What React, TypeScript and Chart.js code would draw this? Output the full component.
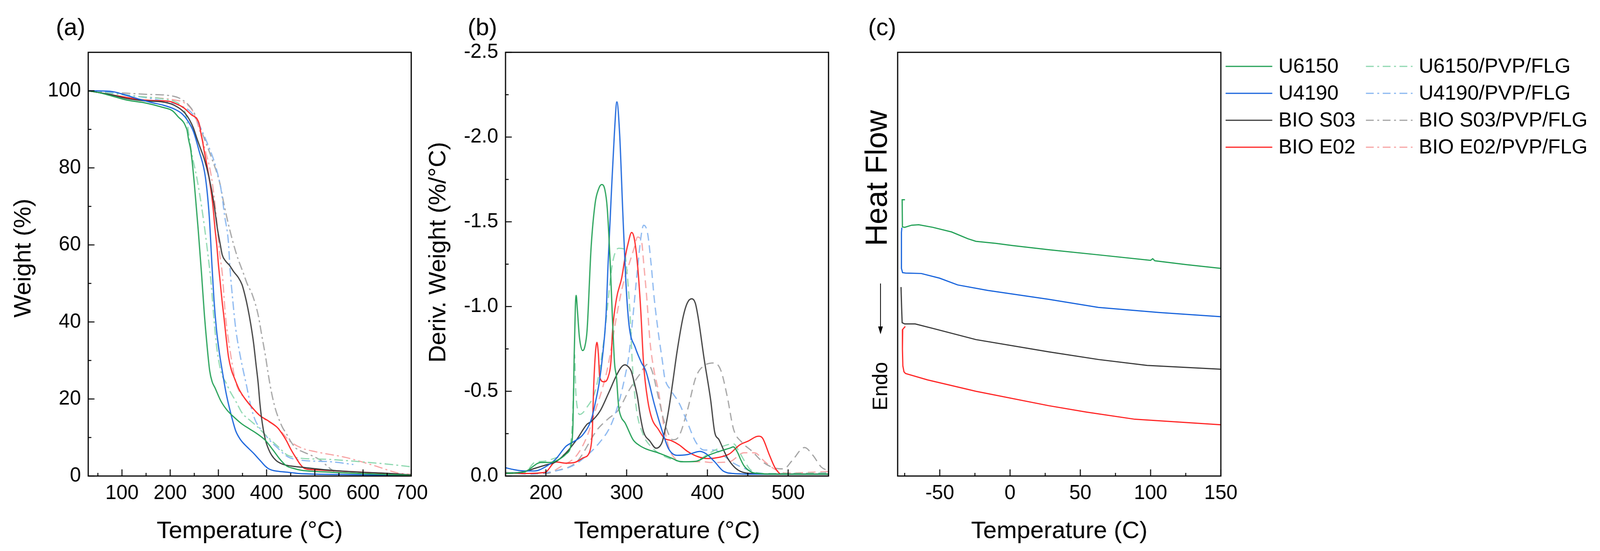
import React, { useEffect, useRef } from "react";
import { Chart, registerables } from "chart.js";

Chart.register(...registerables);

type Pt = [number, number];

const FONT = "'Liberation Sans', Arial, Helvetica, sans-serif";
const PAGE_W = 4393;
const PAGE_H = 1411;

const seriesNames = ["U6150", "U4190", "BIO S03", "BIO E02"];
const compositeNames = ["U6150/PVP/FLG", "U4190/PVP/FLG", "BIO S03/PVP/FLG", "BIO E02/PVP/FLG"];
const solidColors = ["#22a055", "#1763dc", "#3a3a3a", "#ff2424"];
const lightColors = ["#8ed8b0", "#88b6f0", "#a3a3a3", "#f7a3a3"];

// (a) TGA, weight (%) vs temperature (°C)
const tgaU6150: Pt[] = [[30,100],[50,99.6],[81,98.6],[110,97.6],[147,96.9],[185,95.7],[205,94.8],[217,93.2],[228,91.8],[233,90.5],[235,89.8],[238,87.5],[243,84.4],[250,76],[258,64.1],[265,52.6],[271,41.8],[276,34.5],[282,27.3],[287,24.5],[293,22.9],[305,19.5],[318,17.1],[335,15.0],[349,13.5],[365,12.2],[380,11.0],[398,9.2],[407,7.8],[416,6.3],[428,4.3],[441,2.65],[455,2.0],[472,1.5],[500,1.2],[533,1.0],[600,0.6],[700,0.2]];
const tgaU4190: Pt[] = [[30,100],[50,100],[81,99.8],[110,98.8],[134,97.9],[160,97.0],[185,96.3],[210,95.2],[225,94.0],[235,92.5],[248,89.5],[260,84.4],[273,77.6],[281,67.5],[287,54],[291,45.5],[296,38.1],[302,32],[308,27.3],[316,21.5],[324,17.1],[330,14.2],[336,11.7],[345,9.6],[355,8.1],[364,7.0],[373,5.9],[381,4.8],[389,3.7],[397,2.6],[404,1.9],[415,1.4],[426,1.2],[450,0.9],[472,0.6],[550,0.4],[700,0.1]];
const tgaBioS03: Pt[] = [[30,100],[50,99.6],[81,98.9],[110,98.0],[147,97.4],[185,97.1],[202,96.6],[215,95.8],[223,95.1],[232,94.0],[240,92.5],[248,90.4],[255,87.8],[263,85.0],[270.5,82.4],[280.5,77.6],[290.6,70.9],[298,64.2],[304,60.0],[308,57.4],[315,55.8],[323,54.7],[332,53.0],[341,51.6],[349,49.7],[355,47.0],[361,43.6],[367,39.5],[373,34.5],[378,29],[382.5,24.1],[386,19],[389,15.6],[393,12.2],[398,9.2],[404,7.0],[410,5.5],[420,4.0],[435,3.0],[450,2.6],[472,2.3],[500,1.9],[533,1.5],[595,1.0],[650,0.7],[700,0.3]];
const tgaBioE02: Pt[] = [[30,100],[50,99.6],[81,98.9],[110,98.3],[134,97.8],[160,97.5],[197,97.3],[215,96.5],[228,95.6],[243,93.9],[258,92.2],[261,91],[263,89.5],[267,87],[270.5,84.4],[275,81.5],[280.5,77.6],[288,70.9],[293,64.2],[297,59.5],[300,55],[304,50],[308,45],[311,41.8],[316,36],[321,30.9],[327,27.5],[333,25.5],[343,22.5],[355,20.1],[370,17.8],[386,15.7],[405,14.2],[423,12.5],[432,11],[441,9.2],[450,7.0],[460,4.9],[470,3.0],[478,2.0],[490,1.7],[503,1.6],[565,1.2],[626,0.8],[700,0.2]];
const tgaU6150Flg: Pt[] = [[30,100],[80,99.3],[130,98.6],[180,98.0],[210,97.2],[225,95.8],[233,93.5],[240,87.5],[245,83.5],[255,77.6],[268,67.5],[280,55.7],[285,50],[290,42],[296,34],[302,29],[308,26],[315,24.4],[325,21.8],[337,19.2],[349,16.4],[365,14.5],[380,12.9],[395,11],[410,9.2],[425,7.5],[441,5.6],[455,4.9],[472,4.6],[533,4.3],[595,3.7],[650,3.1],[700,2.4]];
const tgaU4190Flg: Pt[] = [[30,100],[80,99.5],[130,98.6],[185,97.4],[220,96.2],[243,94.5],[260,91.2],[270,88.5],[278,86.1],[293,81.0],[305.6,74.3],[313,67.5],[320.7,60.8],[324,54],[330,45.4],[336,38.2],[345.6,31.0],[358,23.7],[367,18.3],[376,14.6],[385,12.6],[395,11.0],[410,8.8],[422.7,7.3],[435,5.8],[447,4.8],[472,4.1],[533,3.7],[580,3.0]];
const tgaBioS03Flg: Pt[] = [[30,100],[80,99.6],[109,99.4],[150,99.1],[197,98.8],[222,97.9],[243,95.6],[255,92.9],[268,88.5],[285.6,82.7],[303,76],[311,70.9],[323,64.2],[338,57.4],[352,52.6],[360,49.8],[370,47.2],[382.5,41.8],[390,36.5],[398,30.9],[404,26],[410,21.8],[418,17.5],[426,14.6],[433,12.6],[441,11.0],[450,9.0],[460,7.3],[475,6.3],[490,5.5],[512,4.1],[522,3.0],[531,2.0],[540,1.2]];
const tgaBioE02Flg: Pt[] = [[30,100],[80,99.3],[130,98.6],[180,98.1],[210,97.6],[228,97],[248,94.5],[260,90.2],[273,84.4],[285.6,77.6],[295.6,67.5],[303,57.4],[308,52.6],[314.5,41.8],[324,32.7],[336,24.4],[355,20.1],[386,15.7],[423,12.5],[447,9.2],[472,7.3],[502,6.3],[565,4.8],[626,2.6],[672,0.8],[700,0.4]];

// (b) DTG, deriv. weight (%/°C) vs temperature (°C)
const dtgU6150: Pt[] = [[150,-0.015],[174,-0.026],[194,-0.08],[205,-0.08],[215,-0.095],[225,-0.13],[231,-0.18],[233.5,-0.3],[235,-0.7],[236.5,-1.0],[237.5,-1.066],[239,-0.98],[241.5,-0.82],[245.5,-0.74],[248,-0.76],[251,-0.86],[256,-1.35],[261,-1.61],[265,-1.69],[269,-1.72],[273,-1.69],[276,-1.58],[279.7,-1.25],[282.3,-0.94],[285,-0.667],[287.4,-0.583],[290,-0.414],[293,-0.35],[298,-0.314],[308,-0.214],[316,-0.18],[324,-0.16],[339,-0.137],[355,-0.107],[368,-0.084],[386,-0.087],[401,-0.122],[417,-0.149],[428,-0.165],[432,-0.172],[437.6,-0.137],[441,-0.1],[445.4,-0.06],[452,-0.03],[458,-0.018],[484,-0.011],[550,-0.011]];
const dtgU4190: Pt[] = [[150,-0.049],[160,-0.038],[174,-0.03],[186,-0.03],[199,-0.053],[212,-0.099],[225,-0.176],[235.6,-0.206],[246,-0.245],[256.4,-0.337],[262,-0.45],[266,-0.55],[270,-0.70],[274.4,-0.94],[277,-1.25],[281,-1.663],[284.8,-2.02],[287.9,-2.208],[291.3,-2.02],[295.2,-1.56],[299,-1.149],[303,-0.89],[310.7,-0.758],[318.5,-0.667],[323.7,-0.621],[334,-0.429],[344.4,-0.26],[352,-0.16],[362.5,-0.122],[375,-0.126],[391,-0.145],[398.7,-0.13],[409,-0.084],[419.4,-0.03],[432,-0.015],[458,-0.011],[550,-0.011]];
const dtgBioS03: Pt[] = [[150,-0.015],[174,-0.026],[186,-0.045],[199,-0.064],[212,-0.083],[225,-0.137],[238,-0.214],[251,-0.306],[256,-0.321],[267,-0.383],[277,-0.483],[287,-0.59],[293,-0.64],[297.8,-0.656],[302,-0.645],[305.5,-0.621],[309,-0.56],[313.3,-0.468],[317,-0.35],[321,-0.26],[328.8,-0.206],[336.6,-0.164],[341,-0.175],[344.4,-0.206],[352,-0.39],[357,-0.55],[362.5,-0.736],[370,-0.94],[375,-1.02],[380.6,-1.046],[385,-1.02],[388.4,-0.94],[396,-0.69],[404,-0.45],[409,-0.26],[414.4,-0.214],[424.8,-0.107],[435,-0.046],[448,-0.018],[484,-0.011],[550,-0.011]];
const dtgBioE02: Pt[] = [[150,-0.018],[174,-0.015],[199,-0.022],[212,-0.083],[225,-0.076],[235.6,-0.08],[246,-0.107],[253.7,-0.137],[256.5,-0.2],[257.6,-0.276],[259,-0.506],[261.5,-0.736],[263.2,-0.789],[265,-0.72],[266.7,-0.583],[271.8,-0.556],[277,-0.583],[280.9,-0.698],[282.3,-0.84],[287.4,-1.046],[293.9,-1.169],[297.8,-1.282],[301.7,-1.37],[306.2,-1.437],[309.5,-1.40],[313.4,-1.25],[317.3,-0.99],[321,-0.66],[326.2,-0.444],[331.4,-0.337],[339.2,-0.276],[346.9,-0.222],[354.7,-0.21],[365,-0.184],[375.4,-0.145],[388.3,-0.114],[401.3,-0.103],[414.2,-0.11],[427.1,-0.13],[440.1,-0.184],[450.4,-0.206],[460.8,-0.233],[464,-0.235],[468.5,-0.222],[476.3,-0.13],[484.1,-0.046],[491.8,-0.011],[550,-0.011]];
const dtgU6150Flg: Pt[] = [[150,-0.02],[174,-0.022],[186,-0.08],[199,-0.088],[212,-0.107],[225,-0.137],[231.7,-0.237],[234.3,-0.506],[235.5,-0.716],[237,-0.5],[239,-0.4],[241.8,-0.363],[250,-0.4],[262.6,-0.529],[271.8,-0.8],[275.1,-0.944],[282.3,-1.25],[290,-1.344],[296.6,-1.34],[300.5,-1.2],[304.4,-0.94],[307,-0.667],[312,-0.4],[320,-0.25],[328.9,-0.18],[354.8,-0.1],[380.6,-0.084],[406.5,-0.145],[419.4,-0.176],[432.4,-0.19],[440,-0.137],[447,-0.08],[453,-0.038],[471,-0.015],[550,-0.018]];
const dtgU4190Flg: Pt[] = [[150,-0.022],[180,-0.011],[212,-0.03],[233,-0.06],[251,-0.122],[266.7,-0.199],[279.6,-0.291],[290,-0.429],[297.8,-0.583],[303,-0.72],[308,-0.95],[313,-1.2],[318,-1.42],[321,-1.48],[326,-1.43],[330.3,-1.25],[334.2,-1.046],[339.4,-0.84],[344.6,-0.667],[347,-0.583],[354.8,-0.506],[365.1,-0.429],[375.4,-0.314],[385.8,-0.199],[396.1,-0.153],[409,-0.153],[419.4,-0.122],[432.4,-0.076],[445.3,-0.046],[458.3,-0.022],[500,-0.011],[550,-0.02]];
const dtgBioS03Flg: Pt[] = [[150,-0.015],[200,-0.015],[212,-0.03],[238,-0.083],[264,-0.276],[277,-0.337],[290,-0.391],[303,-0.506],[315.9,-0.598],[326.2,-0.66],[331.4,-0.621],[339.2,-0.468],[346.9,-0.314],[357.3,-0.214],[365,-0.237],[375.4,-0.391],[385.7,-0.583],[396.1,-0.652],[409,-0.667],[416.8,-0.621],[424.6,-0.468],[432.4,-0.276],[442.7,-0.199],[455.6,-0.145],[468.6,-0.083],[484.1,-0.046],[494.5,-0.042],[504.8,-0.09],[520.3,-0.168],[530.7,-0.122],[541,-0.053],[550,-0.03]];
const dtgBioE02Flg: Pt[] = [[150,-0.015],[200,-0.015],[220,-0.06],[238.2,-0.122],[251.2,-0.237],[261.5,-0.391],[269.3,-0.506],[277,-0.65],[287.4,-0.94],[295,-1.12],[303,-1.25],[309.6,-1.35],[313.5,-1.41],[318.6,-1.38],[321.2,-1.25],[325,-1.046],[329,-0.79],[334,-0.62],[339.2,-0.506],[346.9,-0.276],[354.8,-0.137],[372.8,-0.084],[393.5,-0.084],[406.5,-0.08],[427.1,-0.084],[445.3,-0.137],[458.3,-0.137],[471.2,-0.084],[484.2,-0.038],[497,-0.018],[550,-0.026]];

// (c) DSC, heat flow (arbitrary units) vs temperature (C)
const dscU6150: Pt[] = [[-74.8,65.2],[-76.8,65.2],[-76.6,58.8],[-75,58.7],[-70,59.2],[-65,59.3],[-55,58.7],[-41.6,57.6],[-30,56.0],[-24.3,55.4],[-10,54.9],[1.6,54.4],[19.7,53.7],[27.5,53.4],[62.9,52.2],[100,50.9],[101.5,51.3],[103,50.8],[125,49.9],[150,49.0]];
const dscU4190: Pt[] = [[-77.0,58.6],[-77.3,57.5],[-77.3,49.0],[-76.5,48.0],[-74.4,47.9],[-63.2,47.8],[-50.2,46.7],[-37.3,45.1],[-15.8,43.8],[27.5,41.7],[62.9,39.8],[106,38.6],[150,37.6]];
const dscBioS03: Pt[] = [[-77.6,44.6],[-77.2,40],[-76.8,36.2],[-75,35.9],[-67.5,35.9],[-54.5,34.8],[-24.3,32.2],[27.5,29.3],[62.9,27.5],[97.5,26.1],[150,25.2]];
const dscBioE02: Pt[] = [[-74.6,35.3],[-76.4,34.6],[-76.6,30],[-76.3,26],[-75.5,24.6],[-74.4,24.2],[-58.8,22.7],[-24.3,20.0],[27.5,16.6],[54.3,15.1],[88.8,13.4],[150,12.1]];

const tgaXTicks = [100, 200, 300, 400, 500, 600, 700];
const tgaXMinor = [50, 150, 250, 350, 450, 550, 650];
const tgaYTicks = [0, 20, 40, 60, 80, 100];
const tgaYMinor = [10, 30, 50, 70, 90];
const dtgXTicks = [200, 300, 400, 500];
const dtgXMinor = [250, 350, 450];
const dtgYTicks = [-2.5, -2.0, -1.5, -1.0, -0.5, 0];
const dtgYMinor = [-2.25, -1.75, -1.25, -0.75, -0.25];
const dscXTicks = [-50, 0, 50, 100, 150];
const dscXMinor = [-75, -25, 25, 75, 125];

const PLOT_TOP = 134;
const X_AXIS_H = PAGE_H - 1219;
const DASHDOT = [22, 8, 5, 8];
const DASHED = [20, 12];
const LEGEND_ROWS = [170, 239, 308, 377];

// the photographed viewport can be narrower than the page that was asked for:
// horizontal layout is scaled to whatever width is really available
const viewW = () => (typeof window !== "undefined" && window.innerWidth ? window.innerWidth : PAGE_W);

const toXY = (pts: Pt[]) => pts.map(([x, y]) => ({ x, y }));

const line = (label: string, pts: Pt[], color: string, dash: number[] = [], smooth = true) => ({
  label,
  data: toXY(pts),
  borderColor: color,
  backgroundColor: color,
  borderWidth: 3,
  borderDash: dash,
  pointRadius: 0,
  showLine: true,
  fill: false,
  tension: 0,
  cubicInterpolationMode: smooth ? "monotone" : "default",
});

// frame, inward ticks, free text, legend and arrow
const decor = {
  id: "decor",
  afterDraw(chart: any, _args: any, opts: any) {
    const { ctx, chartArea: ca, scales } = chart;
    const xs = scales.x;
    const ys = scales.y;
    ctx.save();
    ctx.strokeStyle = "#000";
    ctx.lineWidth = 3;
    ctx.setLineDash([]);
    ctx.strokeRect(ca.left, ca.top, ca.right - ca.left, ca.bottom - ca.top);
    ctx.lineWidth = 2.5;
    const seg = (x1: number, y1: number, x2: number, y2: number) => {
      ctx.beginPath();
      ctx.moveTo(x1, y1);
      ctx.lineTo(x2, y2);
      ctx.stroke();
    };
    (opts.xMajor || []).forEach((v: number) => { const p = xs.getPixelForValue(v); seg(p, ca.bottom, p, ca.bottom - 17); });
    (opts.xMinor || []).forEach((v: number) => { const p = xs.getPixelForValue(v); seg(p, ca.bottom, p, ca.bottom - 8); });
    (opts.yMajor || []).forEach((v: number) => { const p = ys.getPixelForValue(v); seg(ca.left, p, ca.left + 16, p); });
    (opts.yMinor || []).forEach((v: number) => { const p = ys.getPixelForValue(v); seg(ca.left, p, ca.left + 8, p); });

    ctx.fillStyle = "#000";
    (opts.texts || []).forEach((t: any) => {
      ctx.save();
      ctx.font = `${t.size}px ${FONT}`;
      ctx.textAlign = t.align || "center";
      ctx.textBaseline = t.baseline || "middle";
      ctx.translate(t.x, t.y);
      if (t.rot) ctx.rotate(t.rot);
      ctx.fillText(t.text, 0, 0);
      ctx.restore();
    });

    if (opts.arrow) {
      const { x, y1, y2 } = opts.arrow;
      ctx.lineWidth = 2;
      seg(x, y1, x, y2 - 14);
      ctx.beginPath();
      ctx.moveTo(x - 6, y2 - 20);
      ctx.lineTo(x + 6, y2 - 20);
      ctx.lineTo(x, y2);
      ctx.closePath();
      ctx.fill();
    }

    (opts.legend || []).forEach((it: any) => {
      ctx.strokeStyle = it.color;
      ctx.lineWidth = 3;
      ctx.setLineDash(it.dash);
      seg(it.x, it.y, it.x + it.len, it.y);
      ctx.setLineDash([]);
      ctx.fillStyle = "#000";
      ctx.font = `${it.size}px ${FONT}`;
      ctx.textAlign = "left";
      ctx.textBaseline = "middle";
      ctx.fillText(it.label, it.tx, it.y + 2);
    });
    ctx.restore();
  },
};

const xAxis = (min: number, max: number, ticks: number[], title: string, F: number) => ({
  type: "linear",
  min,
  max,
  afterBuildTicks: (s: any) => { s.ticks = ticks.map((v) => ({ value: v })); },
  afterFit: (s: any) => { s.height = X_AXIS_H; },
  grid: { display: false, drawTicks: false },
  border: { display: false },
  ticks: { font: { size: Math.round(53 * F) }, color: "#000", padding: 14, maxRotation: 0, callback: (v: number) => String(v) },
  title: { display: true, text: title, font: { size: Math.round(64 * F) }, color: "#000", padding: { top: 0, bottom: 13 } },
});

const yAxis = (min: number, max: number, ticks: number[] | null, width: number, fmt: (v: number) => string, F: number, S: number, reverse = false) => ({
  type: "linear",
  min,
  max,
  reverse,
  afterBuildTicks: (s: any) => { if (ticks) s.ticks = ticks.map((v) => ({ value: v })); },
  afterFit: (s: any) => { s.width = width; },
  grid: { display: false, drawTicks: false },
  border: { display: false },
  ticks: { display: !!ticks, font: { size: Math.round(53 * F) }, color: "#000", padding: 20 * S, callback: fmt },
});

const baseOptions = (right: number) => ({
  animation: false,
  responsive: true,
  maintainAspectRatio: false,
  layout: { padding: { left: 0, top: PLOT_TOP, right, bottom: 0 } },
});

const buildTga = (S: number, F: number) => ({
  type: "scatter",
  data: {
    datasets: [
      line(seriesNames[0], tgaU6150, solidColors[0]),
      line(seriesNames[1], tgaU4190, solidColors[1]),
      line(seriesNames[2], tgaBioS03, solidColors[2]),
      line(seriesNames[3], tgaBioE02, solidColors[3]),
      line(compositeNames[0], tgaU6150Flg, lightColors[0], DASHDOT),
      line(compositeNames[1], tgaU4190Flg, lightColors[1], DASHDOT),
      line(compositeNames[2], tgaBioS03Flg, lightColors[2], DASHDOT),
      line(compositeNames[3], tgaBioE02Flg, lightColors[3], DASHDOT),
    ],
  },
  options: {
    ...baseOptions(72 * S),
    plugins: {
      legend: { display: false },
      tooltip: { enabled: false },
      decor: {
        xMajor: tgaXTicks, xMinor: tgaXMinor, yMajor: tgaYTicks, yMinor: tgaYMinor,
        texts: [
          { text: "(a)", x: 153 * S, y: 90, size: 64 * F, align: "left", baseline: "alphabetic" },
          { text: "Weight (%)", x: 65 * S, y: 661, size: 64 * F, rot: -Math.PI / 2 },
        ],
      },
    },
    scales: {
      x: xAxis(30, 700, tgaXTicks, "Temperature (°C)", F),
      y: yAxis(0, 110, tgaYTicks, 242 * S, (v: number) => String(v), F, S),
    },
  },
  plugins: [decor],
});

const buildDtg = (S: number, F: number) => ({
  type: "scatter",
  data: {
    datasets: [
      line(seriesNames[0], dtgU6150, solidColors[0]),
      line(seriesNames[1], dtgU4190, solidColors[1]),
      line(seriesNames[2], dtgBioS03, solidColors[2]),
      line(seriesNames[3], dtgBioE02, solidColors[3]),
      line(compositeNames[0], dtgU6150Flg, lightColors[0], DASHED),
      line(compositeNames[1], dtgU4190Flg, lightColors[1], DASHED),
      line(compositeNames[2], dtgBioS03Flg, lightColors[2], DASHED),
      line(compositeNames[3], dtgBioE02Flg, lightColors[3], DASHED),
    ],
  },
  options: {
    ...baseOptions(76 * S),
    plugins: {
      legend: { display: false },
      tooltip: { enabled: false },
      decor: {
        xMajor: dtgXTicks, xMinor: dtgXMinor, yMajor: dtgYTicks, yMinor: dtgYMinor,
        texts: [
          { text: "(b)", x: 134 * S, y: 90, size: 64 * F, align: "left", baseline: "alphabetic" },
          { text: "Deriv. Weight (%/°C)", x: 55 * S, y: 646, size: 64 * F, rot: -Math.PI / 2 },
        ],
      },
    },
    scales: {
      x: xAxis(150, 550, dtgXTicks, "Temperature (°C)", F),
      y: yAxis(-2.5, 0, dtgYTicks, 238 * S, (v: number) => Number(v).toFixed(1), F, S, true),
    },
  },
  plugins: [decor],
});

const buildDsc = (S: number, F: number) => ({
  type: "scatter",
  data: {
    datasets: [
      line(seriesNames[0], dscU6150, solidColors[0], [], false),
      line(seriesNames[1], dscU4190, solidColors[1], [], false),
      line(seriesNames[2], dscBioS03, solidColors[2], [], false),
      line(seriesNames[3], dscBioE02, solidColors[3], [], false),
    ],
  },
  options: {
    ...baseOptions(1041 * S),
    plugins: {
      legend: { display: false },
      tooltip: { enabled: false },
      decor: {
        xMajor: dscXTicks, xMinor: dscXMinor,
        texts: [
          { text: "(c)", x: 54 * S, y: 90, size: 64 * F, align: "left", baseline: "alphabetic" },
          { text: "Heat Flow", x: 82 * S, y: 456, size: 80 * F, rot: -Math.PI / 2 },
          { text: "Endo", x: 91 * S, y: 989, size: 55 * F, rot: -Math.PI / 2 },
        ],
        arrow: { x: 88 * S, y1: 726, y2: 856 },
        legend: [
          ...seriesNames.map((n, i) => ({ label: n, color: solidColors[i], dash: [], x: 1035 * S, len: 128 * S, tx: 1180 * S, y: LEGEND_ROWS[i], size: 54 * F })),
          ...compositeNames.map((n, i) => ({ label: n, color: lightColors[i], dash: [20, 9, 5, 9], x: 1420 * S, len: 128 * S, tx: 1565 * S, y: LEGEND_ROWS[i], size: 54 * F })),
        ],
      },
    },
    scales: {
      x: xAxis(-80, 150, dscXTicks, "Temperature (C)", F),
      y: yAxis(0, 100, null, 135 * S, () => "", F, S),
    },
  },
  plugins: [decor],
});

function ChartPanel({ left, width, build }: { left: number; width: number; build: () => any }) {
  const canvasRef = useRef<HTMLCanvasElement>(null);
  useEffect(() => {
    if (!canvasRef.current) return;
    const chart = new Chart(canvasRef.current, build());
    return () => chart.destroy();
  }, [build]);
  return (
    <div style={{ position: "absolute", left, top: 0, width, height: PAGE_H }}>
      <canvas ref={canvasRef} />
    </div>
  );
}

export default function App() {
  Chart.defaults.font.family = FONT;
  Chart.defaults.color = "#000";
  const S = Math.min(1, viewW() / PAGE_W);
  const F = (1 + S) / 2;
  return (
    <div style={{ position: "fixed", left: 0, top: 0, width: PAGE_W * S, height: PAGE_H, background: "#fff", overflow: "hidden" }}>
      <ChartPanel left={0} width={1200 * S} build={() => buildTga(S, F)} />
      <ChartPanel left={1150 * S} width={1200 * S} build={() => buildDtg(S, F)} />
      <ChartPanel left={2330 * S} width={(PAGE_W - 2330) * S} build={() => buildDsc(S, F)} />
    </div>
  );
}
